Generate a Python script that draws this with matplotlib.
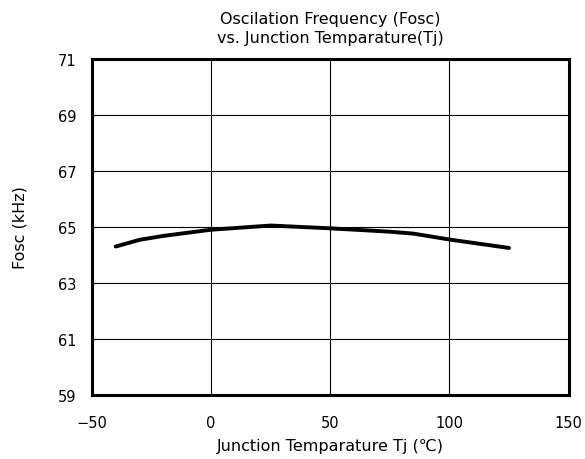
import matplotlib
matplotlib.use("Agg")
import matplotlib.pyplot as plt

# Fosc vs Tj
tj = [-40, -30, -20, 0, 25, 50, 75, 85, 100, 125]
fosc = [64.30, 64.54, 64.68, 64.90, 65.05, 64.95, 64.83, 64.76, 64.55, 64.25]

x_ticks = [-50, 0, 50, 100, 150]
y_ticks = [59, 61, 63, 65, 67, 69, 71]

plt.rcParams['font.family'] = ['DejaVu Sans', 'Noto Sans CJK JP']
plt.rcParams['font.size'] = 11.5

fig = plt.figure(figsize=(5.85, 4.6), dpi=100)
ax = fig.add_axes([0.157, 0.139, 0.815, 0.731])

ax.plot(tj, fosc, color='black', linewidth=2.8, solid_capstyle='round')

ax.set_xlim(-50, 150)
ax.set_ylim(59, 71)
ax.set_xticks(x_ticks)
ax.set_yticks(y_ticks)
ax.set_xticklabels(['\u221250', '0', '50', '100', '150'])
ax.grid(True, color='black', linewidth=0.8)
ax.tick_params(axis='x', length=0, pad=14, labelsize=10.5)
ax.tick_params(axis='y', length=0, pad=11, labelsize=10.5)
for s in ax.spines.values():
    s.set_linewidth(2.2)

ax.set_xlabel('Junction Temparature Tj (℃)', labelpad=6)
ax.set_ylabel('Fosc (kHz)', labelpad=22)
ax.set_title('Oscilation Frequency (Fosc)\nvs. Junction Temparature(Tj)', fontsize=11.5, pad=12, linespacing=1.35)

fig.savefig('out.png', dpi=100)
